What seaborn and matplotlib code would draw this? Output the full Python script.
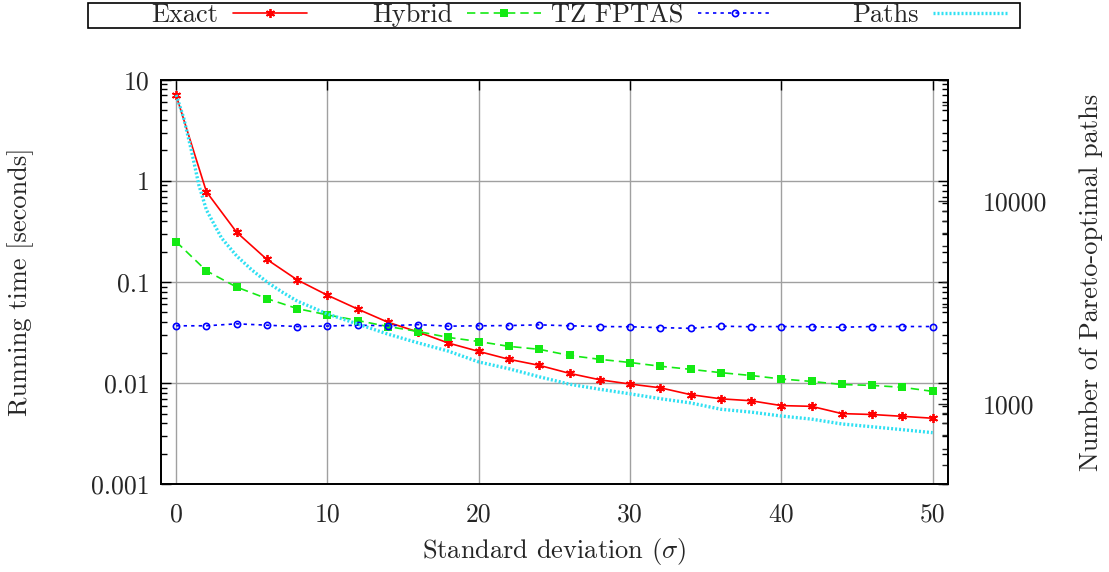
import matplotlib
matplotlib.use("Agg")
import matplotlib.pyplot as plt
import seaborn as sns
from matplotlib.patches import Rectangle
from matplotlib.ticker import FixedLocator, FixedFormatter, NullFormatter, LogLocator

# running times [s], sampled every 2 sigma
sigma = list(range(0, 51, 2))
exact = [7.0, 0.78, 0.31, 0.167, 0.105, 0.074, 0.054, 0.040, 0.032, 0.0249,
         0.0206, 0.0172, 0.0150, 0.0125, 0.0108, 0.0098, 0.0090, 0.0077, 0.0070,
         0.0067, 0.0060, 0.0059, 0.0050, 0.0049, 0.0047, 0.0045]
hybrid = [0.25, 0.129, 0.089, 0.0685, 0.0546, 0.0473, 0.0416, 0.0363, 0.0324,
          0.0283, 0.0258, 0.0231, 0.0216, 0.0188, 0.0172, 0.0160, 0.0147, 0.0137,
          0.0127, 0.0119, 0.0110, 0.0104, 0.0097, 0.0095, 0.0091, 0.0083]
tz_fptas = [0.0369, 0.0369, 0.0386, 0.0374, 0.0363, 0.0367, 0.0374, 0.0369,
            0.0379, 0.0366, 0.0369, 0.0371, 0.0377, 0.0369, 0.0363, 0.0361,
            0.0354, 0.0348, 0.0366, 0.0361, 0.0363, 0.0361, 0.0357, 0.0363,
            0.0363, 0.0363]

# number of pareto-optimal paths (right axis)
paths_sigma = [0, 0.5, 1, 1.5, 2, 3, 4, 5, 6, 7, 8] + list(range(10, 51, 2))
paths = [33600, 25850, 17970, 12060, 9080, 6600, 5380, 4590, 4000, 3570, 3220,
         2780, 2480, 2210, 2000, 1820, 1610, 1490, 1360, 1250, 1180, 1120, 1060,
         1010, 940, 910, 870, 840, 795, 770, 745, 720]

x_ticks = [0, 10, 20, 30, 40, 50]
y_ticks = [0.001, 0.01, 0.1, 1, 10]
y_tick_labels = ['0.001', '0.01', '0.1', '1', '10']
y2_ticks = [1000, 10000]
y2_tick_labels = ['1000', '10000']

sns.set_style("white")
plt.rcParams['font.family'] = ['cmr10', 'DejaVu Serif']
plt.rcParams['mathtext.fontset'] = 'cm'
plt.rcParams['axes.unicode_minus'] = False
plt.rcParams['font.size'] = 19

fig = plt.figure(figsize=(11.09, 5.72), dpi=100)
ax = fig.add_axes([0.1452, 0.1533, 0.7094, 0.7074])
ax2 = ax.twinx()

sns.lineplot(x=sigma, y=exact, ax=ax, color='#ff0000', linewidth=1.2,
             marker=(6, 2, 0), markersize=6.5, markeredgewidth=1.3,
             markeredgecolor='#ff0000', label='Exact', legend=False)
sns.lineplot(x=sigma, y=hybrid, ax=ax, color='#14ea14', linewidth=1.2,
             linestyle=(0, (5, 3)), marker='s', markersize=5.5,
             markeredgewidth=0, label='Hybrid', legend=False)
sns.lineplot(x=sigma, y=tz_fptas, ax=ax, color='#0000ff', linewidth=1.2,
             linestyle=(0, (2, 2.5)), marker='o', markersize=4.5,
             markerfacecolor='none', markeredgecolor='#0000ff',
             markeredgewidth=1.2, label='TZ FPTAS', legend=False)
sns.lineplot(x=paths_sigma, y=paths, ax=ax2, color='#30e0f2', linewidth=2.4,
             linestyle=(0, (0.6, 0.6)), label='Paths', legend=False)

ax.set_yscale('log')
ax.set_xlim(-1, 51)
ax.set_ylim(0.001, 10)
ax2.set_yscale('log')
ax2.set_ylim(400, 40000)

ax.xaxis.set_major_locator(FixedLocator(x_ticks))
ax.set_xticklabels([str(t) for t in x_ticks])
ax.yaxis.set_major_locator(FixedLocator(y_ticks))
ax.yaxis.set_major_formatter(FixedFormatter(y_tick_labels))
ax.yaxis.set_minor_locator(LogLocator(base=10, subs=range(2, 10)))
ax.yaxis.set_minor_formatter(NullFormatter())
ax2.yaxis.set_major_locator(FixedLocator(y2_ticks))
ax2.yaxis.set_major_formatter(FixedFormatter(y2_tick_labels))
ax2.yaxis.set_minor_locator(LogLocator(base=10, subs=range(2, 10)))
ax2.yaxis.set_minor_formatter(NullFormatter())

ax.grid(True, which='major', color='#a0a0a0', linewidth=1.0)
ax.tick_params(axis='both', which='both', direction='in', top=True, right=True,
               color='black', labelsize=18.5)
ax.tick_params(axis='both', which='major', length=7, width=1.0)
ax.tick_params(axis='y', which='minor', length=4, width=1.0)
ax.tick_params(axis='x', which='major', pad=13)
ax.tick_params(axis='y', which='major', pad=8)
ax2.tick_params(axis='y', which='both', direction='in', labelsize=18.5)
ax2.tick_params(axis='y', which='major', length=7, width=1.0, pad=25)
ax2.tick_params(axis='y', which='minor', length=4, width=1.0)

for a in (ax, ax2):
    for s in a.spines.values():
        s.set_linewidth(1.3)
        s.set_color('black')

ax.set_xlabel(r'Standard deviation ($\sigma$)', fontsize=19, labelpad=7)
ax.set_ylabel('Running time [seconds]', fontsize=19, labelpad=41)
ax2.set_ylabel('Number of Pareto-optimal paths', fontsize=19, labelpad=23)

# gnuplot-style key: one boxed row, text right-aligned before each sample
h1, l1 = ax.get_legend_handles_labels()
h2, l2 = ax2.get_legend_handles_labels()
handles = h1 + h2
labels = l1 + l2
sample_ends = [307, 541, 772, 1007]
for h, l, xe in zip(handles, labels, sample_ends):
    lg = fig.legend([h], [l], loc='center right',
                    bbox_to_anchor=(xe / 1109, 1 - 15.5 / 572),
                    markerfirst=False, frameon=False, borderaxespad=0,
                    borderpad=0, handlelength=2.8, handletextpad=0.55,
                    fontsize=19)
fig.patches.append(Rectangle((88 / 1109, 1 - 28 / 572), 932 / 1109, 25 / 572,
                             transform=fig.transFigure, fill=False,
                             edgecolor='black', linewidth=1.2))

fig.savefig('out.png', dpi=100)
